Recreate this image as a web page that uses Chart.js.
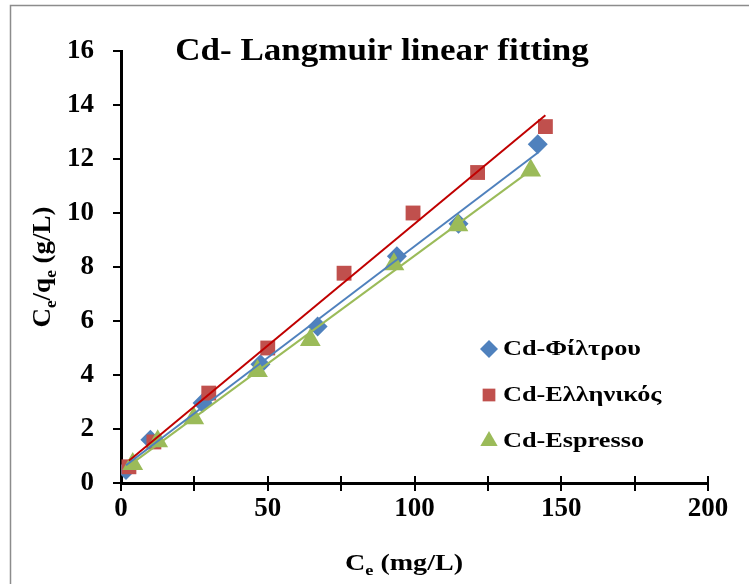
<!DOCTYPE html>
<html>
<head>
<meta charset="utf-8">
<title>Cd- Langmuir linear fitting</title>
<script src="https://cdn.jsdelivr.net/npm/chart.js@4.4.1/dist/chart.umd.min.js"></script>
<style>
  html, body { margin: 0; padding: 0; background: #fff; }
  #wrap { width: 749px; height: 584px; }
</style>
</head>
<body>
<div id="wrap"><canvas id="langmuirChart" width="749" height="584"></canvas></div>
<script>
// Ce (mg/L) and Ce/qe (g/L) per coffee sample
const filtrouX = [1.7, 10, 27.8, 47.5, 67, 94, 115, 142];
const filtrouY = [0.48, 1.6, 2.96, 4.4, 5.8, 8.4, 9.6, 12.55];
const ellinikosX = [2.7, 11.2, 29.9, 50, 76, 99.5, 121.5, 144.6];
const ellinikosY = [0.6, 1.52, 3.33, 5.0, 7.77, 10.0, 11.5, 13.2];
const espressoX = [4, 12.5, 24.8, 46.5, 64.5, 93, 114.8, 139.6];
const espressoY = [0.7, 1.55, 2.4, 4.15, 5.3, 8.1, 9.55, 11.57];

const seriesNames = ['Cd-Φίλτρου', 'Cd-Ελληνικός', 'Cd-Espresso'];
const xTicks = [0, 50, 100, 150, 200];
const yTicks = [0, 2, 4, 6, 8, 10, 12, 14, 16];

const FONT = "'Liberation Serif', 'Times New Roman', serif";
Chart.defaults.font.family = FONT;
Chart.defaults.color = '#000';

function toPoints(xs, ys) {
    return xs.map((x, i) => ({ x: x, y: ys[i] }));
}

// least-squares trendline over the series' x range
function trendline(xs, ys) {
    const n = xs.length;
    const mx = xs.reduce((a, b) => a + b, 0) / n;
    const my = ys.reduce((a, b) => a + b, 0) / n;
    let sxy = 0, sxx = 0;
    for (let i = 0; i < n; i++) {
        sxy += (xs[i] - mx) * (ys[i] - my);
        sxx += (xs[i] - mx) * (xs[i] - mx);
    }
    const slope = sxy / sxx;
    const icpt = my - slope * mx;
    const x0 = Math.min(...xs), x1 = Math.max(...xs);
    return [{ x: x0, y: icpt + slope * x0 }, { x: x1, y: icpt + slope * x1 }];
}

function pointSet(label, xs, ys, color, style, radius, order) {
    return {
        label: label,
        data: toPoints(xs, ys),
        showLine: false,
        pointStyle: style,
        pointRadius: radius,
        pointHoverRadius: radius,
        backgroundColor: color,
        borderColor: color,
        borderWidth: 0,
        order: order
    };
}

function lineSet(xs, ys, color) {
    return {
        label: '',
        data: trendline(xs, ys),
        showLine: true,
        pointRadius: 0,
        borderColor: color,
        borderWidth: 2,
        fill: false,
        order: 0
    };
}

const datasets = [
    pointSet(seriesNames[0], filtrouX, filtrouY, '#4F81BD', 'rectRot', 10, 3),
    pointSet(seriesNames[1], ellinikosX, ellinikosY, '#C0504D', 'rect', 10.5, 2),
    pointSet(seriesNames[2], espressoX, espressoY, '#9BBB59', 'triangle', 12, 1),
    lineSet(filtrouX, filtrouY, '#4F81BD'),
    lineSet(ellinikosX, ellinikosY, '#C00000'),
    lineSet(espressoX, espressoY, '#9BBB59')
];

// bold text, widened by sx, left-aligned at x
function wideText(ctx, text, x, y, size, sx) {
    ctx.save();
    ctx.font = 'bold ' + size + 'px ' + FONT;
    ctx.translate(x, y);
    ctx.scale(sx, 1);
    ctx.fillText(text, 0, 0);
    ctx.restore();
    ctx.font = 'bold ' + size + 'px ' + FONT;
    return ctx.measureText(text).width * sx;
}

// text run with subscript parts, centred on (cx, baseline)
function drawSubText(ctx, parts, cx, baseline, size, sx) {
    const sub = Math.round(size * 0.65);
    let total = 0;
    parts.forEach(p => {
        ctx.font = 'bold ' + (p[1] ? sub : size) + 'px ' + FONT;
        total += ctx.measureText(p[0]).width * sx;
    });
    let x = cx - total / 2;
    ctx.textAlign = 'left';
    ctx.textBaseline = 'alphabetic';
    parts.forEach(p => {
        x += wideText(ctx, p[0], x, baseline + (p[1] ? size * 0.22 : 0), p[1] ? sub : size, sx);
    });
}

// frame, titles with subscripts, crossing x ticks, and the in-plot legend
const decorations = {
    id: 'decorations',
    beforeDraw(chart) {
        const ctx = chart.ctx;
        ctx.save();
        ctx.fillStyle = '#fff';
        ctx.fillRect(0, 0, chart.width, chart.height);
        ctx.strokeStyle = '#8c8c8c';
        ctx.lineWidth = 1.5;
        ctx.strokeRect(10.5, 5.5, 800, 700);
        ctx.restore();
    },
    afterDraw(chart) {
        const ctx = chart.ctx;
        const area = chart.chartArea;
        const xs = chart.scales.x;
        ctx.save();

        // x ticks cross the axis line
        ctx.strokeStyle = '#000';
        ctx.lineWidth = 2;
        for (let v = 25; v <= 200; v += 25) {
            const px = Math.round(xs.getPixelForValue(v));
            ctx.beginPath();
            ctx.moveTo(px, area.bottom);
            ctx.lineTo(px, area.bottom - 7);
            ctx.stroke();
        }

        ctx.fillStyle = '#000';
        ctx.textBaseline = 'alphabetic';
        ctx.textAlign = 'left';

        // chart title
        ctx.font = 'bold 31px ' + FONT;
        const tSx = 1.13;
        const tW = ctx.measureText('Cd- Langmuir linear fitting').width * tSx;
        wideText(ctx, 'Cd- Langmuir linear fitting', 382 - tW / 2, 60, 31, tSx);

        // x axis title: Ce (mg/L)
        drawSubText(ctx, [['C', 0], ['e', 1], [' (mg/L)', 0]], 404, 570, 23, 1.22);

        // y axis title: Ce/qe (g/L), rotated
        ctx.save();
        ctx.translate(50, 267);
        ctx.rotate(-Math.PI / 2);
        drawSubText(ctx, [['C', 0], ['e', 1], ['/q', 0], ['e', 1], [' (g/L)', 0]], 0, 0, 25, 1.08);
        ctx.restore();

        // legend
        const rows = [349, 395, 441];
        ctx.textBaseline = 'middle';
        for (let i = 0; i < 3; i++) {
            const ds = chart.data.datasets[i];
            ctx.fillStyle = ds.backgroundColor;
            Chart.helpers.drawPoint(ctx, {
                pointStyle: ds.pointStyle,
                radius: ds.pointStyle === 'triangle' ? 10 : 9,
                rotation: 0,
                borderWidth: 0
            }, 489, rows[i]);
            ctx.fillStyle = '#000';
            wideText(ctx, ds.label, 503, rows[i] + 1, 21, 1.25);
        }
        ctx.restore();
    }
};

const config = {
    type: 'scatter',
    data: { datasets: datasets },
    options: {
        responsive: false,
        animation: false,
        layout: {
            autoPadding: false,
            padding: { left: 0, top: 51, right: 41, bottom: 0 }
        },
        plugins: {
            legend: { display: false },
            title: { display: false },
            tooltip: { enabled: false }
        },
        scales: {
            x: {
                type: 'linear',
                min: 0,
                max: 200,
                afterFit: scale => { scale.height = 101; },
                afterBuildTicks: scale => {
                    scale.ticks = [];
                    for (let v = 0; v <= 200; v += 25) scale.ticks.push({ value: v });
                },
                ticks: {
                    autoSkip: false,
                    maxRotation: 0,
                    padding: 2,
                    font: { size: 27, weight: 'bold' },
                    callback: v => (xTicks.includes(v) ? String(v) : '')
                },
                grid: {
                    display: true,
                    drawOnChartArea: false,
                    drawTicks: true,
                    tickLength: 8,
                    color: '#000',
                    lineWidth: 2
                },
                border: { display: true, color: '#000', width: 3 }
            },
            y: {
                type: 'linear',
                min: 0,
                max: 16,
                afterFit: scale => { scale.width = 121; },
                afterBuildTicks: scale => {
                    scale.ticks = yTicks.map(v => ({ value: v }));
                },
                ticks: {
                    padding: 19,
                    font: { size: 27, weight: 'bold' }
                },
                grid: {
                    display: true,
                    drawOnChartArea: false,
                    drawTicks: true,
                    tickLength: 8,
                    color: '#000',
                    lineWidth: 2
                },
                border: { display: true, color: '#000', width: 3 }
            }
        }
    },
    plugins: [decorations]
};

new Chart(document.getElementById('langmuirChart'), config);
</script>
</body>
</html>
